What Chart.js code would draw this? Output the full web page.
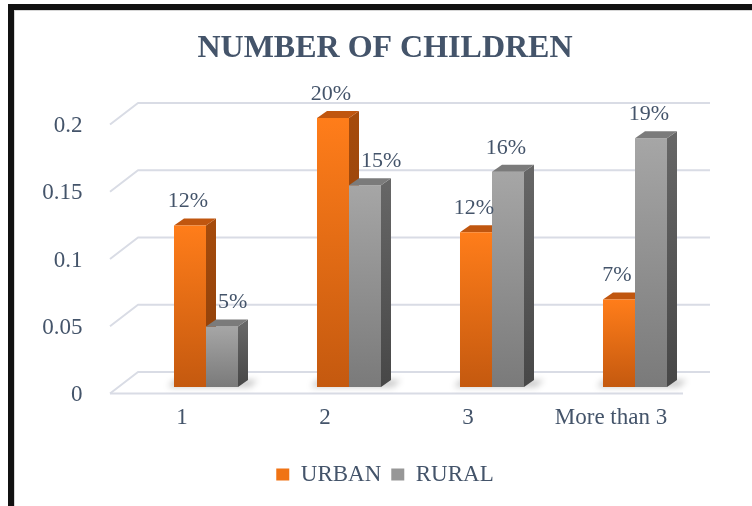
<!DOCTYPE html>
<html><head><meta charset="utf-8">
<script src="https://cdn.jsdelivr.net/npm/chart.js@4.4.1/dist/chart.umd.min.js"></script>
<style>
html,body{margin:0;padding:0;background:#fff;}
#wrap{position:relative;width:752px;height:506px;overflow:hidden;background:#fff;}
#frame{position:absolute;left:8px;top:4px;width:800px;height:600px;border-left:6px solid #111;border-top:6px solid #111;box-sizing:border-box;}
#inner{position:absolute;left:14px;top:10px;width:800px;height:600px;border-left:1px solid #d6d6d6;border-top:1px solid #d6d6d6;}
canvas{position:absolute;left:0;top:0;}
</style></head><body>
<div id="wrap"><canvas id="c" width="752" height="506"></canvas><div id="frame"></div><div id="inner"></div></div>
<script>
const categories = ['1', '2', '3', 'More than 3'];
const urbanValues = [0.12, 0.20, 0.115, 0.065];
const ruralValues = [0.045, 0.15, 0.16, 0.185];
const urbanLabels = ['12%', '20%', '12%', '7%'];
const ruralLabels = ['5%', '15%', '16%', '19%'];
const yTickValues = [0, 0.05, 0.1, 0.15, 0.2];
const yTickLabels = ['0', '0.05', '0.1', '0.15', '0.2'];

const FONT = "'Liberation Serif', 'Times New Roman', serif";
const TEXT = '#44546A';
const DX = 10, DY = 7;

function frontFill(top, bottom) {
  return (c) => {
    const chart = c.chart;
    if (c.dataIndex === undefined || !chart.chartArea || !chart.scales.y) return bottom;
    const ys = chart.scales.y;
    const t = ys.getPixelForValue(c.raw), b = ys.getPixelForValue(0);
    if (!isFinite(t) || !isFinite(b) || t === b) return bottom;
    const g = chart.ctx.createLinearGradient(0, t, 0, b);
    g.addColorStop(0, top); g.addColorStop(1, bottom);
    return g;
  };
}

function faces(ctx, b, sideTop, sideBot, topCol) {
  const l = b.x - b.width / 2, r = b.x + b.width / 2, t = b.y, base = b.base;
  const g = ctx.createLinearGradient(0, t, 0, base);
  g.addColorStop(0, sideTop); g.addColorStop(1, sideBot);
  ctx.fillStyle = g;
  ctx.beginPath(); ctx.moveTo(r, t); ctx.lineTo(r + DX, t - DY); ctx.lineTo(r + DX, base - DY); ctx.lineTo(r, base); ctx.closePath(); ctx.fill();
  ctx.fillStyle = topCol;
  ctx.beginPath(); ctx.moveTo(l, t); ctx.lineTo(l + DX, t - DY); ctx.lineTo(r + DX, t - DY); ctx.lineTo(r, t); ctx.closePath(); ctx.fill();
}

const threeD = {
  id: 'threeD',
  afterLayout(chart) {
    chart.scales.y.left = 0;
  },
  beforeDatasetsDraw(chart) {
    const ctx = chart.ctx, ys = chart.scales.y, a = chart.chartArea;
    ctx.save();
    ctx.strokeStyle = '#d9dce5'; ctx.lineWidth = 2; ctx.lineJoin = 'round';
    yTickValues.forEach(v => {
      const py = ys.getPixelForValue(v);
      const back = py - 15, front = py + 6.5;
      ctx.beginPath();
      ctx.moveTo(a.left - 24.5, front); ctx.lineTo(a.left + 3.5, back); ctx.lineTo(a.right + 3.5, back);
      ctx.stroke();
      if (v === 0) {
        ctx.beginPath(); ctx.moveTo(a.left - 24.5, front); ctx.lineTo(a.right - 23.5, front); ctx.stroke();
      }
    });
    const um = chart.getDatasetMeta(0).data, rm = chart.getDatasetMeta(1).data;
    ctx.filter = 'blur(3px)';
    ctx.fillStyle = 'rgba(0,0,0,0.22)';
    um.forEach((u, i) => {
      const r = rm[i];
      const l = u.x - u.width / 2 - 6, rr = r.x + r.width / 2 + 20;
      ctx.beginPath();
      ctx.moveTo(l, u.base); ctx.lineTo(rr - 8, u.base); ctx.lineTo(rr, u.base - 7); ctx.lineTo(l + 6, u.base - 7);
      ctx.closePath(); ctx.fill();
    });
    ctx.filter = 'none';
    um.forEach(u => faces(ctx, u, '#a54b0c', '#8a3e0a', '#c0560f'));
    ctx.restore();
  },
  afterDatasetsDraw(chart) {
    const ctx = chart.ctx;
    ctx.save();
    const um = chart.getDatasetMeta(0).data, rm = chart.getDatasetMeta(1).data;
    rm.forEach(r => faces(ctx, r, '#666666', '#474747', '#7b7b7b'));
    ctx.fillStyle = TEXT; ctx.font = '22px ' + FONT; ctx.textAlign = 'center'; ctx.textBaseline = 'middle';
    um.forEach((b, i) => ctx.fillText(urbanLabels[i], b.x - 2, b.y - 24));
    rm.forEach((b, i) => {
      let cx = b.x - 2;
      const cy = b.y - 24;
      const u = um[i];
      const w = ctx.measureText(ruralLabels[i]).width;
      if (u.y - DY < cy + 12) {
        const minLeft = u.x + u.width / 2 + DX + 2;
        if (cx - w / 2 < minLeft) cx = minLeft + w / 2;
      }
      ctx.fillText(ruralLabels[i], cx, cy);
    });
    ctx.restore();
  }
};

new Chart(document.getElementById('c'), {
  type: 'bar',
  data: {
    labels: categories,
    datasets: [
      { label: 'URBAN', data: urbanValues, backgroundColor: frontFill('#ff7d1a', '#c4590f'), legendColor: '#f07314',
        borderWidth: 0, barPercentage: 1, categoryPercentage: 0.4476 },
      { label: 'RURAL', data: ruralValues, backgroundColor: frontFill('#a6a6a6', '#7a7a7a'), legendColor: '#979797',
        borderWidth: 0, barPercentage: 1, categoryPercentage: 0.4476 }
    ]
  },
  options: {
    responsive: false, animation: false, devicePixelRatio: 1,
    layout: { padding: { left: 63.5, right: 45.5, top: 0, bottom: 10 } },
    scales: {
      x: {
        grid: { display: false }, border: { display: false },
        ticks: { font: { family: FONT, size: 23 }, color: TEXT, padding: 9, labelOffset: -24, maxRotation: 0, autoSkip: false },
        afterFit: s => { s.height = 66; }
      },
      y: {
        min: 0, max: 0.2,
        grid: { display: false }, border: { display: false },
        afterBuildTicks: s => { s.ticks = yTickValues.map(v => ({ value: v })); },
        ticks: { font: { family: FONT, size: 23 }, color: TEXT, padding: 44, labelOffset: 8,
                 callback: (v, i) => yTickLabels[i] },
        afterFit: s => { s.width = 71; }
      }
    },
    plugins: {
      title: { display: true, text: 'NUMBER OF CHILDREN', color: TEXT,
               font: { family: FONT, size: 32, weight: 'bold' }, padding: { top: 30, bottom: 49.6 } },
      legend: { position: 'bottom',
        labels: { font: { family: FONT, size: 23 }, color: TEXT, boxWidth: 13, boxHeight: 12, padding: 10,
          generateLabels: (chart) => chart.data.datasets.map((d, i) => ({
            text: d.label, fillStyle: d.legendColor, strokeStyle: d.legendColor, lineWidth: 0,
            hidden: !chart.isDatasetVisible(i), datasetIndex: i, fontColor: TEXT })) } },
      tooltip: { enabled: false }
    }
  },
  plugins: [threeD]
});
</script>
</body></html>
